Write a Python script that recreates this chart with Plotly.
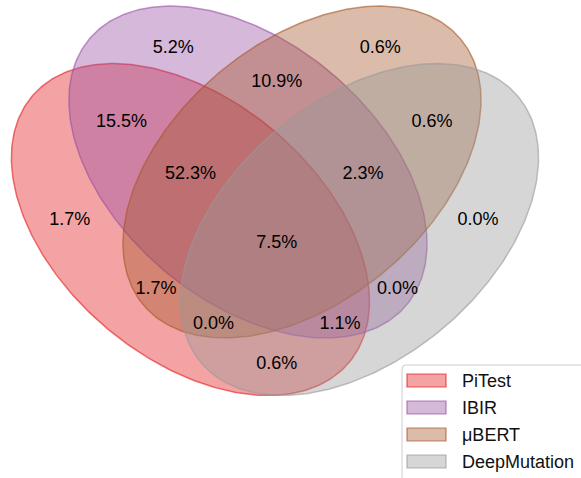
import numpy as np
import plotly.graph_objects as go

# ---------------- data ----------------
set_names = ["PiTest", "IBIR", "μBERT", "DeepMutation"]
region_keys = ["0001", "0010", "0011", "0100", "0101", "0110", "0111", "1000",
               "1001", "1010", "1011", "1100", "1101", "1110", "1111"]
region_values = [0.0, 0.6, 0.6, 5.2, 0.0, 10.9, 2.3, 1.7,
                 0.6, 1.7, 0.0, 15.5, 1.1, 52.3, 7.5]

# ---------------- layout / style ----------------
set_colors = [(228, 26, 28), (152, 78, 163), (166, 86, 40), (153, 153, 153)]
fill_alpha = 0.4
line_alpha = 0.6

# ellipse geometry (pyvenn 4-set layout): cx, cy, width, height, angle
ellipse_geom = [
    (0.350, 0.400, 0.72, 0.45, 140.0),
    (0.450, 0.500, 0.72, 0.45, 140.0),
    (0.544, 0.500, 0.72, 0.45, 40.0),
    (0.644, 0.400, 0.72, 0.45, 40.0),
]
label_pos = {
    "0001": (0.85, 0.42), "0010": (0.68, 0.72), "0011": (0.77, 0.59),
    "0100": (0.32, 0.72), "0101": (0.71, 0.30), "0110": (0.50, 0.66),
    "0111": (0.65, 0.50), "1000": (0.14, 0.42), "1001": (0.50, 0.17),
    "1010": (0.29, 0.30), "1011": (0.39, 0.24), "1100": (0.23, 0.59),
    "1101": (0.61, 0.24), "1110": (0.35, 0.50), "1111": (0.50, 0.38),
}

W, H = 581, 478
FONT = "Liberation Sans, Arial, sans-serif"
x_left, y_bottom, scale = 0.01878, -0.03217, 575.0
text_dy = -2.5 / scale   # small downward nudge of labels (pixels -> data units)


def rgba(c, a):
    return f"rgba({c[0]},{c[1]},{c[2]},{a})"


fig = go.Figure()

t = np.linspace(0, 2 * np.pi, 361)
for name, col, (cx, cy, w, h, ang) in zip(set_names, set_colors, ellipse_geom):
    a, b = w / 2, h / 2
    th = np.deg2rad(ang)
    ex = a * np.cos(t)
    ey = b * np.sin(t)
    xs = cx + ex * np.cos(th) - ey * np.sin(th)
    ys = cy + ex * np.sin(th) + ey * np.cos(th)
    fig.add_trace(go.Scatter(
        x=xs, y=ys, mode="lines", fill="toself",
        fillcolor=rgba(col, fill_alpha),
        line=dict(color=rgba(col, line_alpha), width=1.5),
        name=name, showlegend=False, hoverinfo="skip",
    ))

fig.add_trace(go.Scatter(
    x=[label_pos[k][0] for k in region_keys],
    y=[label_pos[k][1] + text_dy for k in region_keys],
    mode="text",
    text=[f"{v:.1f}%" for v in region_values],
    textposition="middle center",
    textfont=dict(family=FONT, size=18, color="#000000"),
    showlegend=False, hoverinfo="skip",
))

# ---------------- legend (matplotlib-like, lower right) ----------------
def PX(x):
    return x / W


def PY(y):
    return 1 - y / H


shapes = []
lx0, ly0 = 402, 365
r = 4
shapes.append(dict(
    type="path", xref="paper", yref="paper",
    path=(f"M {PX(lx0)},{PY(H + 10)} L {PX(lx0)},{PY(ly0 + r)} "
          f"Q {PX(lx0)},{PY(ly0)} {PX(lx0 + r)},{PY(ly0)} "
          f"L {PX(W + 10)},{PY(ly0)} L {PX(W + 10)},{PY(H + 10)} Z"),
    fillcolor="rgba(255,255,255,0.8)",
    line=dict(color="rgb(204,204,204)", width=1),
    layer="above",
))
annotations = []
row_y = [380.5, 407.5, 434.5, 461.5]
for name, col, yc in zip(set_names, set_colors, row_y):
    shapes.append(dict(
        type="rect", xref="paper", yref="paper",
        x0=PX(407), x1=PX(446), y0=PY(yc - 6.5), y1=PY(yc + 6.5),
        fillcolor=rgba(col, fill_alpha),
        line=dict(color=rgba(col, line_alpha + 0.1), width=1.2),
        layer="above",
    ))
    annotations.append(dict(
        xref="paper", yref="paper", x=PX(460), y=PY(yc),
        xanchor="left", yanchor="middle", showarrow=False,
        text=name, font=dict(family=FONT, size=18, color="#111111"),
    ))

fig.update_layout(
    width=W, height=H,
    margin=dict(l=0, r=0, t=0, b=0),
    paper_bgcolor="white", plot_bgcolor="white",
    xaxis=dict(visible=False, range=[x_left, x_left + W / scale], fixedrange=True),
    yaxis=dict(visible=False, range=[y_bottom, y_bottom + H / scale], fixedrange=True),
    shapes=shapes, annotations=annotations,
    showlegend=False,
)

fig.write_html("out.html")
